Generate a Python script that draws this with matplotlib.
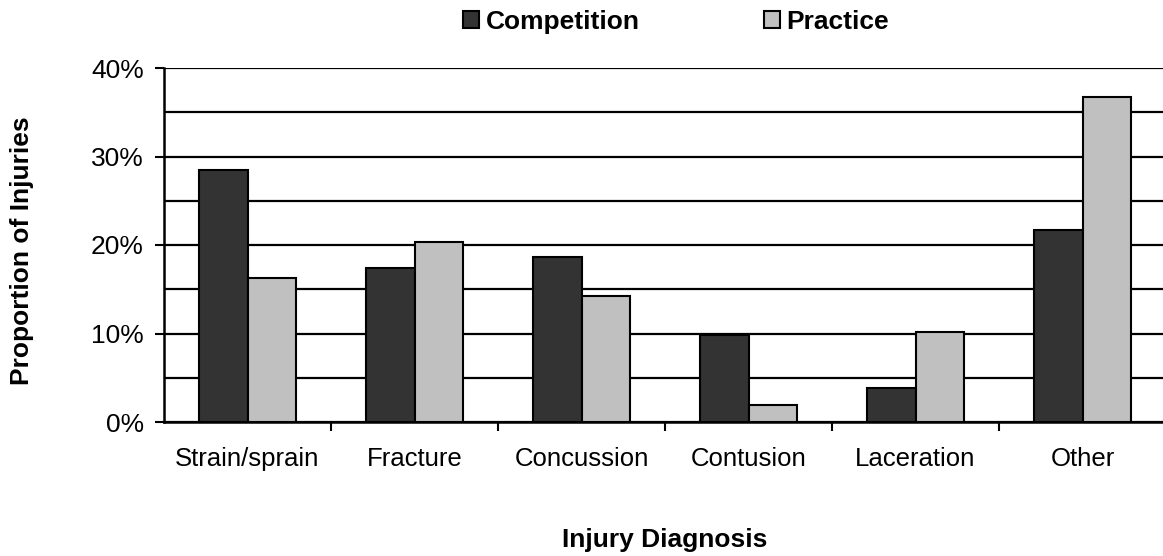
import matplotlib
matplotlib.use("Agg")
import matplotlib.pyplot as plt
import numpy as np
from matplotlib.ticker import FixedLocator, PercentFormatter

plt.rcParams['font.family'] = ['Liberation Sans', 'DejaVu Sans']

categories = ["Strain/sprain", "Fracture", "Concussion", "Contusion", "Laceration", "Other"]
competition = [28.5, 17.4, 18.7, 9.8, 3.8, 21.7]
practice = [16.3, 20.3, 14.2, 1.9, 10.2, 36.7]
y_ticks = [0, 10, 20, 30, 40]

dark = "#333333"
light = "#c0c0c0"

fig = plt.figure(figsize=(11.63, 5.56), dpi=100)
ax = fig.add_axes([164 / 1163, 1 - 422 / 556, 1002 / 1163, 354 / 556])

x = np.arange(len(categories))
w = 0.288
b1 = ax.bar(x - w / 2, competition, w, color=dark, edgecolor="black", linewidth=1.5,
            label="Competition", zorder=3)
b2 = ax.bar(x + w / 2, practice, w, color=light, edgecolor="black", linewidth=1.5,
            label="Practice", zorder=3)

ax.set_xlim(-0.5, len(categories) - 0.5)
ax.set_ylim(0, 40)

# y axis: labelled ticks every 10%, gridlines every 5%
ax.yaxis.set_major_locator(FixedLocator(y_ticks))
ax.yaxis.set_minor_locator(FixedLocator([5, 15, 25, 35]))
ax.yaxis.set_major_formatter(PercentFormatter(decimals=0))
ax.grid(axis="y", which="both", color="black", linewidth=1.6, zorder=0)
ax.set_axisbelow(True)
ax.tick_params(axis="y", which="major", length=6.5, width=1.5, pad=8, labelsize=19)
ax.tick_params(axis="y", which="minor", length=0)

# x axis: labels at category centres, tick marks between categories
ax.set_xticks(x)
ax.set_xticklabels(categories)
ax.xaxis.set_minor_locator(FixedLocator(np.arange(0.5, len(categories) - 1, 1.0)))
ax.tick_params(axis="x", which="major", length=0, pad=18, labelsize=18.5)
ax.tick_params(axis="x", which="minor", length=6.5, width=1.5)

for s in ["top", "right"]:
    ax.spines[s].set_visible(False)
for s in ["left", "bottom"]:
    ax.spines[s].set_linewidth(1.8)
    ax.spines[s].set_zorder(4)

fig.text(22 / 1163, 1 - 251 / 556, "Proportion of Injuries", rotation=90,
         ha="center", va="center", fontsize=19, fontweight="bold")
fig.text(665 / 1163, 1 - 547 / 556, "Injury Diagnosis", ha="center", va="baseline",
         fontsize=19, fontweight="bold")

fig.legend(handles=[b1, b2], loc="center", bbox_to_anchor=(676 / 1163, 1 - 22 / 556),
           ncol=2, frameon=False, handlelength=0.6, handleheight=0.6,
           handletextpad=0.27, columnspacing=4.7,
           prop={"weight": "bold", "size": 19})

fig.savefig("out.png", dpi=100)
